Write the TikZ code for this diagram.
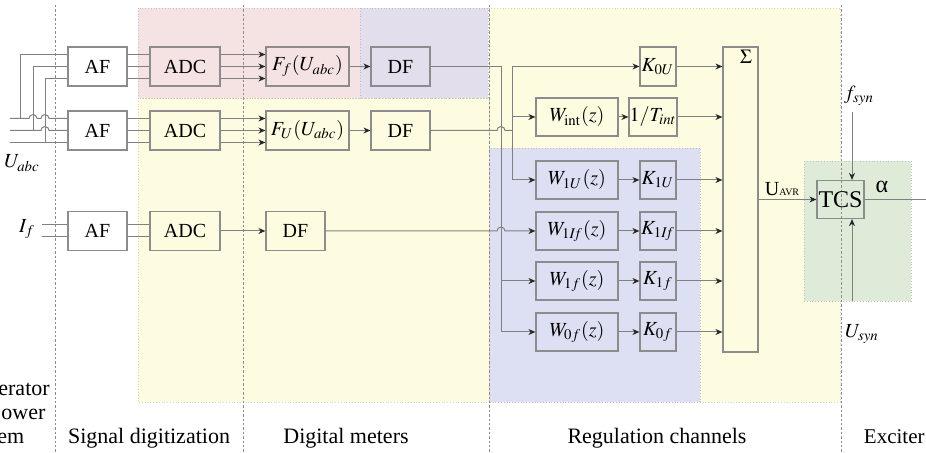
\documentclass[tikz,border=0pt]{standalone}
\usepackage{mathptmx}
\usepackage{fontspec}
\setmainfont{Liberation Serif}
\usetikzlibrary{arrows,arrows.meta,positioning,calc}
\definecolor{pinkbg}{RGB}{245,227,228}
\definecolor{purplebg}{RGB}{226,222,236}
\definecolor{yellowbg}{RGB}{254,252,224}
\definecolor{bluebg}{RGB}{221,224,242}
\definecolor{greenbg}{RGB}{221,235,216}

\begin{document}
\begin{tikzpicture}[x=0.5pt,y=-0.5pt,font=\fontsize{10}{12}\selectfont]
\tikzstyle{blk}=[draw=black!45,line width=0.6pt,inner sep=0pt,minimum height=19.5pt]
\tikzstyle{wire}=[draw=black!50,line width=0.5pt]
\tikzstyle{flow}=[wire,-{Stealth[length=3.5pt,width=3pt,color=black!85]}]
\tikzstyle{zone}=[line width=0.4pt,densely dotted]
\tikzstyle{sep}=[draw=black!45,line width=0.4pt,dash pattern=on 1.2pt off 1pt]
\tikzstyle{caption}=[font=\fontsize{11}{12}\selectfont,inner sep=0pt]
\useasboundingbox (0,0) rectangle (926,453);
%% backgrounds %%
\filldraw[fill=yellowbg,draw=yellowbg!85!black,zone] (489,8) rectangle (840,402);
\filldraw[fill=bluebg,draw=bluebg!85!black,zone] (489,148) rectangle (700,402);
\filldraw[fill=yellowbg,draw=yellowbg!85!black,zone] (138,98) rectangle (489,402);
\filldraw[fill=pinkbg,draw=pinkbg!85!black,zone] (138,8) rectangle (360,98);
\filldraw[fill=purplebg,draw=purplebg!85!black,zone] (360,8) rectangle (488,98);
\filldraw[fill=greenbg,draw=greenbg!85!black,zone] (804,161) rectangle (911,301);
\draw[sep] (55,5) -- (55,453);
\draw[sep] (243,5) -- (243,453);
\draw[sep] (489,5) -- (489,453);
\draw[sep] (841,5) -- (841,453);
%% blocks %%
\node[blk,minimum width=29.5pt] at (97.5,66.5) (AF1) {AF};
\node[blk,minimum width=29.5pt] at (97.5,130.5) (AF2) {AF};
\node[blk,minimum width=29.5pt] at (97.5,231) (AF3) {AF};
\node[blk,minimum width=35pt] at (185,66.5) (ADC1) {ADC};
\node[blk,minimum width=35pt] at (185,130.5) (ADC2) {ADC};
\node[blk,minimum width=35pt] at (185,231) (ADC3) {ADC};
\node[blk,minimum width=41.5pt] at (307.5,66.5) (Ff) {$F_f(U_{abc})$};
\node[blk,minimum width=41.5pt] at (307.5,130.5) (FU) {$F_U(U_{abc})$};
\node[blk,minimum width=29.5pt] at (295.5,231) (DF3) {DF};
\node[blk,minimum width=29.5pt] at (400.5,66.5) (DF1) {DF};
\node[blk,minimum width=29.5pt] at (400.5,130.5) (DF2) {DF};
\node[blk,minimum width=18pt] at (658,66.5) (K0U) {$K_{0U}$};
\node[blk,minimum width=41pt,minimum height=19pt] at (577,117) (Wint) {$W_{\mathrm{int}}(z)$};
\node[blk,minimum width=24pt,minimum height=19pt] at (653,117) (Tint) {$1/T_{int}$};
\node[blk,minimum width=41pt,minimum height=19pt] at (577,180) (W1U) {$W_{1U}(z)$};
\node[blk,minimum width=18pt,minimum height=19pt] at (658,180) (K1U) {$K_{1U}$};
\node[blk,minimum width=41pt,minimum height=19pt] at (577,231) (W1If) {$W_{1I\!f}(z)$};
\node[blk,minimum width=18pt,minimum height=19pt] at (658,231) (K1If) {$K_{1I\!f}$};
\node[blk,minimum width=41pt,minimum height=19pt] at (577,281) (W1f) {$W_{1f}(z)$};
\node[blk,minimum width=18pt,minimum height=19pt] at (658,281) (K1f) {$K_{1f}$};
\node[blk,minimum width=41pt,minimum height=19pt] at (577,332) (W0f) {$W_{0f}(z)$};
\node[blk,minimum width=18pt,minimum height=19pt] at (658,332) (K0f) {$K_{0f}$};
\node[blk,minimum width=17.5pt,minimum height=152.5pt] at (740.5,199.5) (Sigma) {};
\node at (746,57) (sum) {$\Sigma$};
\node[blk,minimum width=23.5pt,minimum height=19pt,font=\fontsize{12}{14}\selectfont] at (840.5,199.5) (TCS) {TCS};
%% labels %%
\node at (22,163) (Uabc) {$U_{abc}$};
\node at (27,229) (If) {$I_f$};
\node at (782,189) (Uavr) {U{\fontsize{5}{6}\selectfont AVR}};
\node[font=\fontsize{12}{14}\selectfont] at (882,187) (alpha) {α};
\node at (859,96) (fsyn) {$f_{syn}$};
\node at (862,334) (Usyn) {$U_{syn}$};
\node[caption,anchor=base west] at (-2,396) (gen1) {erator};
\node[caption,anchor=base west] at (1,420) (gen2) {ower};
\node[caption,anchor=base west] at (-3,444) (gen3) {em};
\node[caption,anchor=base] at (149,444) (capdig) {Signal digitization};
\node[caption,anchor=base] at (346,444) (capmet) {Digital meters};
\node[caption,anchor=base] at (657,444) (capreg) {Regulation channels};
\node[caption,anchor=base east,font=\fontsize{10.5}{12}\selectfont] at (925,444) (capexc) {Exciter};
%% inputs %%
\coordinate (ua) at (10,118.5);
\coordinate (ub) at (10,130.5);
\coordinate (uc) at (10,142.5);
\coordinate (ja) at (20,118.5);
\coordinate (jb) at (33,130.5);
\coordinate (jc) at (45,142.5);
\coordinate (ia) at (42,225);
\coordinate (ib) at (42,237);
\draw[wire] (ua) -- ($(ua -| jb)+(-2pt,0)$) arc[start angle=180,end angle=0,radius=2pt] -- ($(ua -| jc)+(-2pt,0)$) arc[start angle=180,end angle=0,radius=2pt] -- ([yshift=6pt]AF2.west);
\draw[wire] (ub) -- ($(ub -| jc)+(-2pt,0)$) arc[start angle=180,end angle=0,radius=2pt] -- (AF2.west);
\draw[wire] (uc) -- ([yshift=-6pt]AF2.west);
\draw[wire] (ja) |- ([yshift=6pt]AF1.west);
\draw[wire] (jb) |- (AF1.west);
\draw[wire] (jc) |- ([yshift=-6pt]AF1.west);
\draw[wire] (ia) -- ([yshift=3pt]AF3.west);
\draw[wire] (ib) -- ([yshift=-3pt]AF3.west);
%% digitization %%
\draw[wire] ([yshift=6pt]AF1.east) -- ([yshift=6pt]ADC1.west);
\draw[wire] (AF1.east) -- (ADC1.west);
\draw[wire] ([yshift=-6pt]AF1.east) -- ([yshift=-6pt]ADC1.west);
\draw[wire] ([yshift=6pt]AF2.east) -- ([yshift=6pt]ADC2.west);
\draw[wire] (AF2.east) -- (ADC2.west);
\draw[wire] ([yshift=-6pt]AF2.east) -- ([yshift=-6pt]ADC2.west);
\draw[wire] ([yshift=3pt]AF3.east) -- ([yshift=3pt]ADC3.west);
\draw[wire] ([yshift=-3pt]AF3.east) -- ([yshift=-3pt]ADC3.west);
\draw[flow] ([yshift=6pt]ADC1.east) -- ([yshift=6pt]Ff.west);
\draw[flow] (ADC1.east) -- (Ff.west);
\draw[flow] ([yshift=-6pt]ADC1.east) -- ([yshift=-6pt]Ff.west);
\draw[flow] ([yshift=6pt]ADC2.east) -- ([yshift=6pt]FU.west);
\draw[flow] (ADC2.east) -- (FU.west);
\draw[flow] ([yshift=-6pt]ADC2.east) -- ([yshift=-6pt]FU.west);
\draw[flow] (ADC3) -- (DF3);
\draw[flow] (Ff) -- (DF1);
\draw[flow] (FU) -- (DF2);
%% regulation %%
\coordinate (fbus) at (501,66.5);
\coordinate (vbus) at (512,66.5);
\draw[wire] (DF1) -- (fbus);
\draw[flow] (fbus) |- (W0f);
\draw[flow] (fbus |- W1f) -- (W1f);
\draw[wire] (DF2) -- ($(DF2 -| fbus)+(-2pt,0)$) arc[start angle=180,end angle=0,radius=2pt] -- (DF2 -| vbus);
\draw[flow] (vbus) |- (W1U);
\draw[flow] (vbus) -- (K0U);
\draw[flow] (vbus |- Wint) -- (Wint);
\draw[flow] (DF3) -- ($(DF3 -| fbus)+(-2pt,0)$) arc[start angle=180,end angle=0,radius=2pt] -- (W1If);
\draw[flow] (Wint) -- (Tint);
\draw[flow] (W1U) -- (K1U);
\draw[flow] (W1If) -- (K1If);
\draw[flow] (W1f) -- (K1f);
\draw[flow] (W0f) -- (K0f);
\draw[flow] (K0U) -- (K0U -| Sigma.west);
\draw[flow] (Tint) -- (Tint -| Sigma.west);
\draw[flow] (K1U) -- (K1U -| Sigma.west);
\draw[flow] (K1If) -- (K1If -| Sigma.west);
\draw[flow] (K1f) -- (K1f -| Sigma.west);
\draw[flow] (K0f) -- (K0f -| Sigma.west);
%% exciter %%
\coordinate (aout) at (926,199.5);
\coordinate (fin) at (852,112);
\coordinate (uin) at (852,301);
\draw[flow] (Sigma.east |- TCS) -- (TCS);
\draw[wire] (TCS) -- (aout);
\draw[flow] (fin) -- (fin |- TCS.north);
\draw[flow] (uin) -- (uin |- TCS.south);
\end{tikzpicture}
\end{document}
